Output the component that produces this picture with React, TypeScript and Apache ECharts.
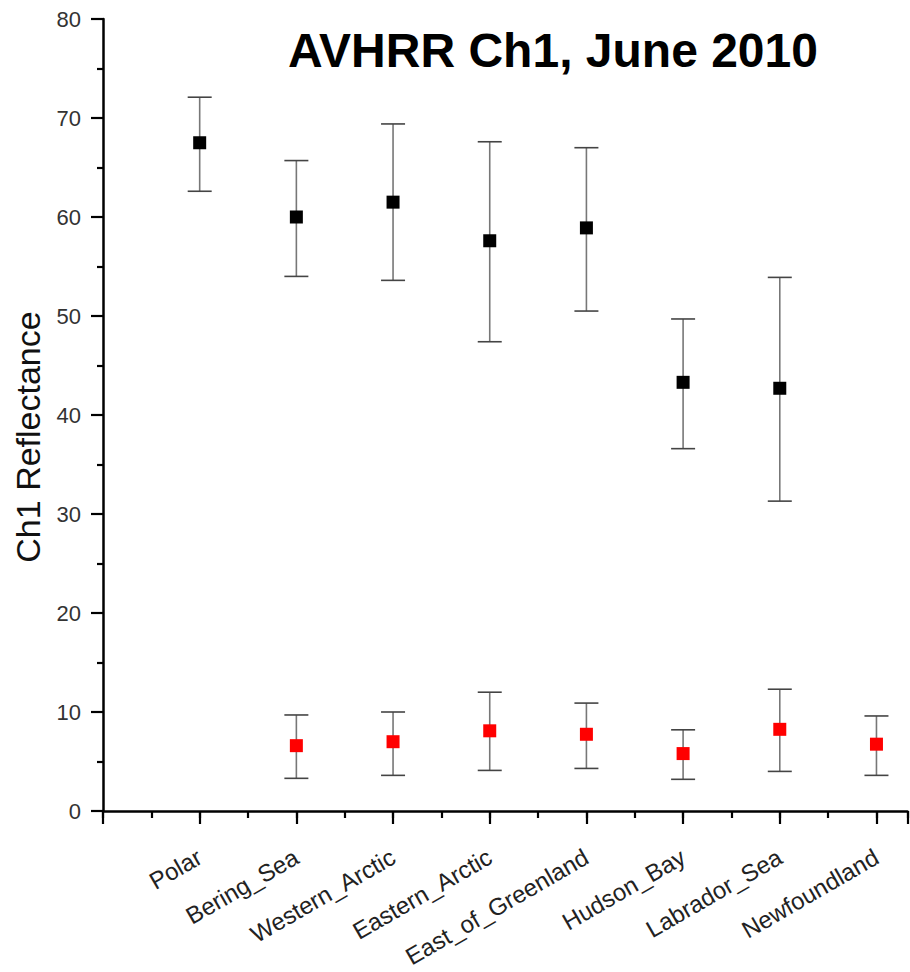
import React, { useEffect, useRef } from "react";
import * as echarts from "echarts";

const categories = [
  "Polar",
  "Bering_Sea",
  "Western_Arctic",
  "Eastern_Arctic",
  "East_of_Greenland",
  "Hudson_Bay",
  "Labrador_Sea",
  "Newfoundland",
];

const blackMean = [67.5, 60.0, 61.5, 57.6, 58.9, 43.3, 42.7, null];
const blackUpper = [72.1, 65.7, 69.4, 67.6, 67.0, 49.7, 53.9, null];
const blackLower = [62.6, 54.0, 53.6, 47.4, 50.5, 36.6, 31.3, null];

const redMean = [null, 6.6, 7.0, 8.1, 7.75, 5.8, 8.25, 6.75];
const redUpper = [null, 9.7, 10.0, 12.0, 10.9, 8.2, 12.3, 9.6];
const redLower = [null, 3.3, 3.6, 4.1, 4.3, 3.2, 4.0, 3.6];

const yTicks = [0, 10, 20, 30, 40, 50, 60, 70, 80];

const FONT = "'Liberation Sans', Arial, Helvetica, sans-serif";
const X_MAX = 8.32;

function points(mean: (number | null)[]) {
  const out: [number, number][] = [];
  mean.forEach((v, i) => {
    if (v != null) out.push([i + 1, v]);
  });
  return out;
}

function bars(lower: (number | null)[], upper: (number | null)[]) {
  const out: [number, number, number][] = [];
  lower.forEach((v, i) => {
    const u = upper[i];
    if (v != null && u != null) out.push([i + 1, v, u]);
  });
  return out;
}

const renderErrorBar = (_params: any, api: any) => {
  const x = api.value(0);
  const lo = api.value(1);
  const hi = api.value(2);
  const pHi = api.coord([x, hi]);
  const pLo = api.coord([x, lo]);
  const half = 12;
  return {
    type: "group",
    children: [
      {
        type: "line",
        shape: { x1: pHi[0], y1: pHi[1], x2: pLo[0], y2: pLo[1] },
        style: { stroke: "#777", lineWidth: 1.6 },
      },
      {
        type: "line",
        shape: { x1: pHi[0] - half, y1: pHi[1], x2: pHi[0] + half, y2: pHi[1] },
        style: { stroke: "#444", lineWidth: 1.6 },
      },
      {
        type: "line",
        shape: { x1: pLo[0] - half, y1: pLo[1], x2: pLo[0] + half, y2: pLo[1] },
        style: { stroke: "#444", lineWidth: 1.6 },
      },
    ],
  };
};

export default function App() {
  const ref = useRef<HTMLDivElement>(null);

  useEffect(() => {
    if (!ref.current) return;
    const chart = echarts.init(ref.current, undefined, { renderer: "svg" });
    chart.setOption({
      animation: false,
      backgroundColor: "#ffffff",
      textStyle: { fontFamily: FONT },
      title: {
        text: "AVHRR Ch1, June 2010",
        left: 288,
        top: 26,
        padding: 0,
        textStyle: {
          fontFamily: FONT,
          fontSize: 48,
          fontWeight: "bold",
          color: "#000",
        },
      },
      graphic: [
        {
          type: "text",
          x: 28,
          y: 437,
          rotation: Math.PI / 2,
          style: {
            text: "Ch1 Reflectance",
            font: `34px ${FONT}`,
            fill: "#111",
            textAlign: "center",
            textVerticalAlign: "middle",
          },
        },
      ],
      grid: { left: 103, right: 0, top: 19, bottom: 161 },
      xAxis: [
        {
          type: "value",
          min: 0,
          max: X_MAX,
          interval: 1,
          splitLine: { show: false },
          axisLine: { show: true, onZero: false, lineStyle: { color: "#000", width: 2.5 } },
          axisTick: { show: true, length: 13, lineStyle: { color: "#000", width: 2.2 } },
          axisLabel: {
            rotate: 30,
            margin: 44,
            fontSize: 24,
            fontFamily: FONT,
            color: "#222",
            formatter: (v: number) => {
              const i = Math.round(v);
              if (Math.abs(v - i) > 1e-6) return "";
              return categories[i - 1] ?? "";
            },
          },
        },
        {
          type: "value",
          position: "bottom",
          min: 0,
          max: X_MAX,
          interval: 0.5,
          splitLine: { show: false },
          axisLine: { show: false, onZero: false },
          axisTick: { show: true, length: 7, lineStyle: { color: "#000", width: 2.2 } },
          axisLabel: { show: false },
        },
      ],
      yAxis: {
        type: "value",
        min: yTicks[0],
        max: yTicks[yTicks.length - 1],
        interval: 10,
        splitLine: { show: false },
        axisLine: { show: true, onZero: false, lineStyle: { color: "#000", width: 2.5 } },
        axisTick: { show: true, length: 12, lineStyle: { color: "#000", width: 2.2 } },
        minorTick: { show: true, splitNumber: 2, length: 6, lineStyle: { color: "#000", width: 2.2 } },
        axisLabel: {
          margin: 22,
          fontSize: 22,
          fontFamily: FONT,
          color: "#333",
        },
      },
      series: [
        {
          name: "Black error",
          type: "custom",
          renderItem: renderErrorBar,
          data: bars(blackLower, blackUpper),
          encode: { x: 0, y: [1, 2] },
          z: 2,
          silent: true,
        },
        {
          name: "Red error",
          type: "custom",
          renderItem: renderErrorBar,
          data: bars(redLower, redUpper),
          encode: { x: 0, y: [1, 2] },
          z: 2,
          silent: true,
        },
        {
          name: "Black",
          type: "scatter",
          symbol: "rect",
          symbolSize: 13,
          itemStyle: { color: "#000", opacity: 1 },
          data: points(blackMean),
          z: 5,
        },
        {
          name: "Red",
          type: "scatter",
          symbol: "rect",
          symbolSize: 13,
          itemStyle: { color: "#ff0000", opacity: 1 },
          data: points(redMean),
          z: 5,
        },
      ],
    });
    return () => chart.dispose();
  }, []);

  return (
    <div
      ref={ref}
      style={{ position: "fixed", left: 0, top: 0, width: 910, height: 972, background: "#fff" }}
    />
  );
}
